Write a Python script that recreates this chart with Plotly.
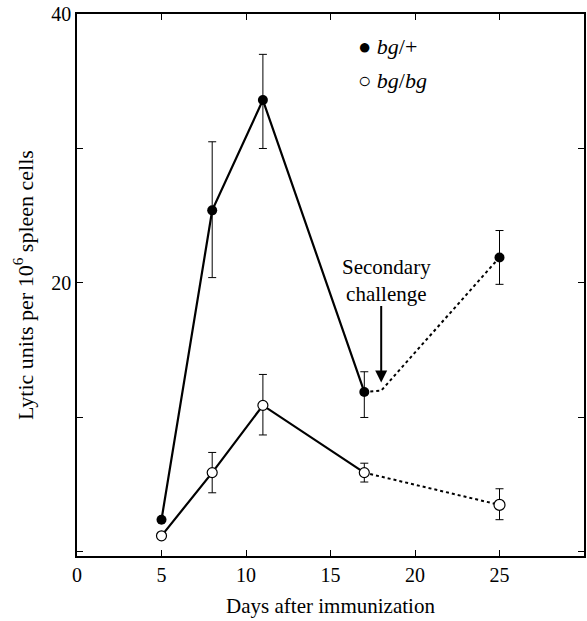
import plotly.graph_objects as go

# Data
days = [5, 8, 11, 17]
het_vals = [2.4, 25.4, 33.6, 11.9]          # bg/+ (filled), primary phase
het_err_plus = [0, 5.1, 3.4, 1.5]
het_err_minus = [0, 5.0, 3.6, 1.9]
hom_vals = [1.2, 5.9, 10.9, 5.9]            # bg/bg (open), primary phase
hom_err_plus = [0, 1.5, 2.3, 0.7]
hom_err_minus = [0, 1.5, 2.2, 0.7]

sec_days = [25]
het_sec = [21.9]
het_sec_err = [2.0]
hom_sec = [3.5]
hom_sec_err_plus = [1.2]
hom_sec_err_minus = [1.1]

# dotted continuation (after secondary challenge at day 18)
het_dot_x = [17, 18, 25]
het_dot_y = [11.9, 12.0, 21.9]
hom_dot_x = [17, 25]
hom_dot_y = [5.9, 3.5]

challenge_day = 18
challenge_y = 12.6

x_ticks = [0, 5, 10, 15, 20, 25, 30]
x_labels = ["0", "5", "10", "15", "20", "25", ""]
y_ticks = [0, 10, 20, 30, 40]
y_labels = ["", "", "20", "", "40"]

FONT = "Liberation Serif, Times New Roman, serif"

fig = go.Figure()

# dotted segments
fig.add_trace(go.Scatter(x=het_dot_x, y=het_dot_y, mode="lines",
                         line=dict(color="black", width=2, dash="dot"), hoverinfo="skip"))
fig.add_trace(go.Scatter(x=hom_dot_x, y=hom_dot_y, mode="lines",
                         line=dict(color="black", width=2, dash="dot"), hoverinfo="skip"))

# solid primary lines with error bars
fig.add_trace(go.Scatter(x=days, y=het_vals, mode="lines+markers",
                         line=dict(color="black", width=2.2),
                         marker=dict(symbol="circle", size=10, color="black"),
                         error_y=dict(type="data", array=het_err_plus, arrayminus=het_err_minus,
                                      symmetric=False, color="black", thickness=1, width=4)))
fig.add_trace(go.Scatter(x=days, y=hom_vals, mode="lines+markers",
                         line=dict(color="black", width=2.2),
                         marker=dict(symbol="circle", size=10, color="white",
                                     line=dict(color="black", width=1.2)),
                         error_y=dict(type="data", array=hom_err_plus, arrayminus=hom_err_minus,
                                      symmetric=False, color="black", thickness=1, width=4)))

# secondary points
fig.add_trace(go.Scatter(x=sec_days, y=het_sec, mode="markers",
                         marker=dict(symbol="circle", size=10, color="black"),
                         error_y=dict(type="data", array=het_sec_err, color="black",
                                      thickness=1, width=4)))
fig.add_trace(go.Scatter(x=sec_days, y=hom_sec, mode="markers",
                         marker=dict(symbol="circle", size=11, color="white",
                                     line=dict(color="black", width=1.2)),
                         error_y=dict(type="data", array=hom_sec_err_plus,
                                      arrayminus=hom_sec_err_minus, symmetric=False,
                                      color="black", thickness=1, width=4)))

# Secondary challenge arrow
fig.add_annotation(x=challenge_day, y=challenge_y, xref="x", yref="y",
                   text="", showarrow=True,
                   arrowhead=2, arrowsize=1.2, arrowwidth=2, arrowcolor="black",
                   ax=0, ay=-78)
fig.add_annotation(x=18.3, y=20.2, xref="x", yref="y", showarrow=False,
                   text="Secondary<br>challenge", yanchor="middle",
                   font=dict(family=FONT, size=21, color="black"))

# Legend as annotations
fig.add_annotation(x=0.55, y=0.94, xref="paper", yref="paper", showarrow=False,
                   xanchor="left", yanchor="middle", text="● <i>bg</i>/+",
                   font=dict(family=FONT, size=22, color="black"))
fig.add_annotation(x=0.55, y=0.878, xref="paper", yref="paper", showarrow=False,
                   xanchor="left", yanchor="middle", text="○ <i>bg</i>/<i>bg</i>",
                   font=dict(family=FONT, size=22, color="black"))

fig.update_layout(
    width=587, height=621,
    margin=dict(l=77, r=1, t=14, b=65),
    paper_bgcolor="white", plot_bgcolor="white",
    showlegend=False,
    font=dict(family=FONT, size=20, color="black"),
    xaxis=dict(range=[0, 30], tickvals=x_ticks, ticktext=x_labels,
               ticks="inside", ticklen=6, tickcolor="black", mirror="ticks",
               showline=True, linecolor="black", linewidth=1.5, showgrid=False,
               zeroline=False, tickfont=dict(family=FONT, size=20),
               title=dict(text="Days after immunization", standoff=14,
                          font=dict(family=FONT, size=21))),
    yaxis=dict(range=[-0.3, 40], tickvals=y_ticks, ticktext=y_labels,
               ticks="inside", ticklen=6, tickcolor="black", mirror="ticks",
               showline=True, linecolor="black", linewidth=1.5, showgrid=False,
               zeroline=False, tickfont=dict(family=FONT, size=20),
               title=dict(text="Lytic units per 10<sup>6</sup> spleen cells", standoff=12,
                          font=dict(family=FONT, size=22))),
)

fig.write_html("out.html", config={"displayModeBar": False},
               post_script="document.body.style.margin='0px';")
